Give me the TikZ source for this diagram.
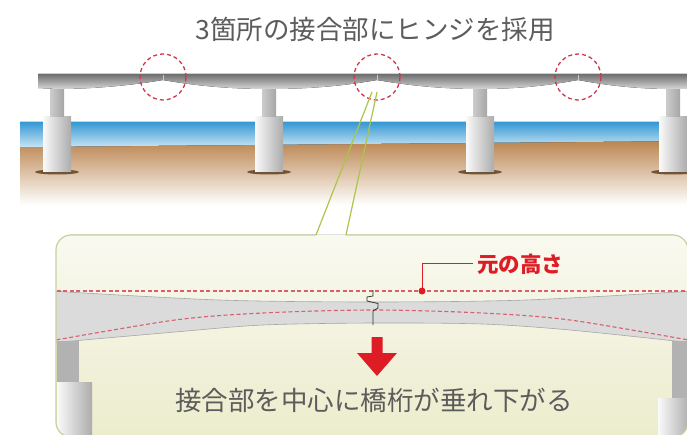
\documentclass[tikz,border=0pt]{standalone}
\usepackage{fontspec}
\setmainfont{Noto Sans CJK JP}
\usetikzlibrary{arrows.meta, positioning, calc}
\definecolor{hingered}{RGB}{205,55,75}
\definecolor{markred}{RGB}{222,28,38}
\definecolor{deckdark}{RGB}{110,110,110}
\definecolor{decklight}{RGB}{215,215,215}
\definecolor{water}{RGB}{52,152,212}
\definecolor{waterlight}{RGB}{200,228,244}
\definecolor{soil}{RGB}{186,132,78}
\definecolor{callout}{RGB}{170,198,72}
\definecolor{boxedge}{RGB}{200,208,160}
\definecolor{boxfill}{RGB}{236,236,205}
\definecolor{textgray}{RGB}{92,92,92}

\begin{document}
\begin{tikzpicture}[x=1pt, y=-1pt,
    hinge/.style={draw=hingered, dash pattern=on 4pt off 3pt, line width=1.3pt, circle, minimum size=46pt, inner sep=0pt},
    column/.style={left color=gray!40, right color=gray!70},
    shaft/.style={left color=white!96!gray, middle color=gray!25, right color=gray!65},
    origline/.style={draw=hingered!80, dash pattern=on 4pt off 2.5pt, line width=1.1pt},
    bigtext/.style={text=textgray, font=\fontsize{26.5}{31}\selectfont, inner sep=0pt}
]
\useasboundingbox (0,0) rectangle (687,435);

\node[bigtext] (title) at (375,29) {3箇所の接合部にヒンジを採用};

% river and ground
\fill[top color=soil, bottom color=white] (20,146) -- (687,140) -- (687,205) -- (20,205) -- cycle;
\fill[top color=water, bottom color=waterlight] (20,122) -- (687,122) -- (687,141) -- (20,147) -- cycle;

% piers
\foreach \px in {57,269,480,673} {
  \fill[brown!45!black, opacity=0.8] (\px,172) ellipse [x radius=22pt, y radius=2.5pt];
  \fill[shaft] (\px-14,117) rectangle (\px+14,172);
  \fill[column] (\px-7,90) rectangle (\px+7,117);
}

% deck
\fill[top color=deckdark, bottom color=decklight] (38,74) -- (689,74) -- (689,89) -- (673,89)
  .. controls (630,89) and (600,84) .. (578,80)
  .. controls (556,84) and (525,89) .. (480,89)
  .. controls (435,89) and (400,84) .. (377,80)
  .. controls (354,84) and (320,89) .. (269,89)
  .. controls (220,89) and (186,84) .. (163,80)
  .. controls (140,84) and (100,89) .. (57,89) -- (38,88) -- cycle;
\foreach \hx in {163,377,578}
  \draw[white!60!gray, line width=0.5pt] (\hx,75) -- (\hx,80);

% hinges
\node[hinge] (h1) at (163,77) {};
\node[hinge] (h2) at (377,77) {};
\node[hinge] (h3) at (578,77) {};

% callout
\coordinate (tipL) at (372,92);
\coordinate (tipR) at (377,92);
\coordinate (gapL) at (316,235);
\coordinate (gapR) at (346,235);
\draw[callout, line width=1.2pt] (tipL) -- (gapL);
\draw[callout, line width=1.2pt] (tipR) -- (gapR);

\fill[top color=white!70!boxfill, bottom color=boxfill, rounded corners=15pt] (56,235) rectangle (688,437);

\begin{scope}
\clip[rounded corners=15pt] (56,235) rectangle (688,437);
% sagging girder
\fill[gray!28] plot[smooth] coordinates {(50,291) (219,300) (373,302) (526,300) (694,291)}
  -- plot[smooth] coordinates {(694,343) (570,330) (482,324) (373,323) (263,325) (175,332) (50,343)} -- cycle;
\draw[gray!70, line width=0.6pt] plot[smooth] coordinates {(50,291) (219,300) (373,302) (526,300) (694,291)};
\draw[gray!70, line width=0.6pt] plot[smooth] coordinates {(694,343) (570,330) (482,324) (373,323) (263,325) (175,332) (50,343)};
% original girder line
\draw[origline] (50,291) -- (694,291);
\draw[origline] plot[smooth] coordinates {(50,341) (175,320) (263,313) (373,310) (482,313) (570,320) (694,341)};
% supports
\fill[gray!60] (57,341) rectangle (79,382);
\fill[shaft] (57,382) rectangle (92,440);
\fill[gray!60] (672,341) rectangle (690,398);
\fill[shaft] (658,398) rectangle (690,440);
\end{scope}

\draw[boxedge, line width=1.2pt, rounded corners=15pt] (gapR) -- (688,235) -- (688,437) -- (56,437) -- (56,235) -- (gapL);

% hinge mark
\draw[gray!40!black, line width=0.8pt] (373,290) -- (373,296) -- (367,297) -- (367,301) -- (378,303.5) -- (378,308)
  -- (373,311) -- (373,325);

% original height label
\coordinate (dot) at (422,291);
\fill[markred] (dot) circle (3.5pt);
\node[text=markred, font=\bfseries\fontsize{21.5}{25}\selectfont, inner sep=0pt, anchor=west] (height) at (477,264) {元の高さ};
\draw[markred, line width=1pt] (dot) |- ([xshift=-4pt]height.west);

% settlement arrow
\fill[markred] (371.5,337) -- (382.5,337) -- (382.5,353) -- (397,353) -- (377,376) -- (357,353) -- (371.5,353) -- cycle;

\node[bigtext] (sag) at (374,400) {接合部を中心に橋桁が垂れ下がる};

\end{tikzpicture}
\end{document}
